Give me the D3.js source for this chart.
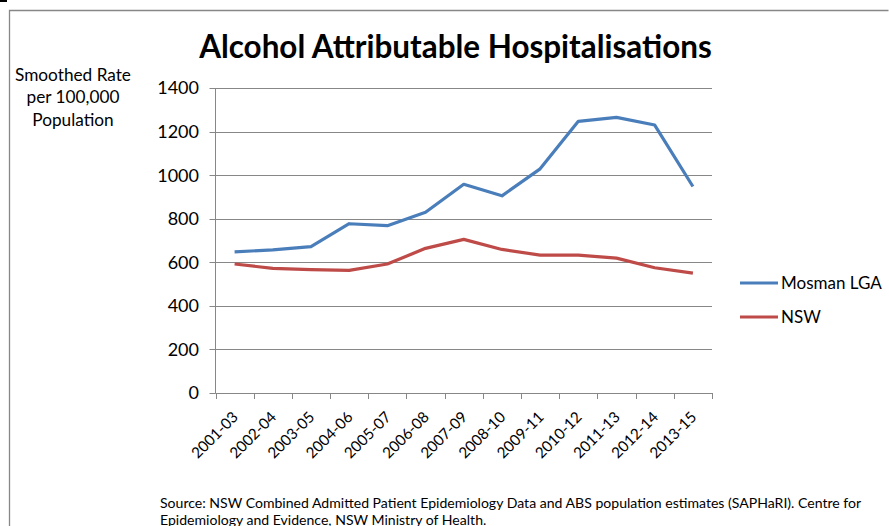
<!DOCTYPE html>
<html><head><meta charset="utf-8">
<script src="https://cdn.jsdelivr.net/npm/d3@7"></script>
<style>
html,body{margin:0;padding:0;background:#fff;}
svg{display:block;}
text{font-family:Lato,"Open Sans",sans-serif;}
</style></head>
<body>
<svg id="chart" width="889" height="526"></svg>
<script>
const categories = ["2001-03","2002-04","2003-05","2004-06","2005-07","2006-08","2007-09","2008-10","2009-11","2010-12","2011-13","2012-14","2013-15"];
const mosmanValues = [648,657,672,777,768,830,958,905,1029,1247,1265,1230,948];
const nswValues = [592,572,566,563,592,664,705,659,633,633,619,575,550];
const seriesNames = ["Mosman LGA","NSW"];
const yTicks = [0,200,400,600,800,1000,1200,1400];
const titleText = "Alcohol Attributable Hospitalisations";
const yTitleLines = ["Smoothed Rate","per 100,000","Population"];
const sourceLines = ["Source: NSW Combined Admitted Patient Epidemiology Data and ABS population estimates (SAPHaRI). Centre for","Epidemiology and Evidence, NSW Ministry of Health."];

(function(){
const colors = ["#4A7EBB","#BE4B48"];
const svg = d3.select("#chart");

function fit(sel, w){
  const cur = parseFloat(sel.attr("font-size"));
  const len = sel.node().getComputedTextLength();
  sel.attr("font-size", cur * w / len);
}

// chart border
svg.append("rect").attr("x",0).attr("y",0).attr("width",7).attr("height",2).attr("fill","#000");
svg.append("path").attr("d","M9.5,540 V10.5 H888.5").attr("fill","none").attr("stroke","#878787").attr("stroke-width",1.3);

const pl = 215.5, pr = 712, pt = 88, pb = 393;
const x = d3.scaleBand().domain(categories).range([pl,pr]);
const y = d3.scaleLinear().domain([0,1400]).range([pb,pt]);
const cx = d => x(d) + x.bandwidth()/2;

// gridlines
svg.append("g").selectAll("line").data(yTicks.filter(t=>t>0)).join("line")
  .attr("x1",pl).attr("x2",pr).attr("y1",d=>Math.round(y(d))+0.5).attr("y2",d=>Math.round(y(d))+0.5)
  .attr("stroke","#878787").attr("stroke-width",1);
// y ticks
svg.append("g").selectAll("line").data(yTicks).join("line")
  .attr("x1",pl-6).attr("x2",pl).attr("y1",d=>Math.round(y(d))+0.5).attr("y2",d=>Math.round(y(d))+0.5)
  .attr("stroke","#878787");
// y axis
svg.append("line").attr("x1",pl).attr("x2",pl).attr("y1",pt).attr("y2",pb+0.5).attr("stroke","#878787");
// x axis
svg.append("line").attr("x1",pl).attr("x2",pr).attr("y1",pb+0.5).attr("y2",pb+0.5).attr("stroke","#878787");
const bounds = categories.map(c=>x(c)).concat([pr]);
svg.append("g").selectAll("line").data(bounds).join("line")
  .attr("x1",d=>Math.round(d)+0.5).attr("x2",d=>Math.round(d)+0.5).attr("y1",pb).attr("y2",pb+6)
  .attr("stroke","#878787");

// y labels
svg.append("g").selectAll("text").data(yTicks).join("text")
  .attr("x",199).attr("y",d=>y(d)).attr("dy","0.36em").attr("text-anchor","end")
  .attr("font-size",18).attr("fill","#000").text(d=>d);

// x labels
svg.append("g").selectAll("text").data(categories).join("text")
  .attr("text-anchor","end").attr("font-size",15.2).attr("fill","#000")
  .attr("transform",d=>`translate(${cx(d)+4.5},${pb+25}) rotate(-45)`).text(d=>d);

// lines
const line = d3.line().x((d,i)=>cx(categories[i])).y(d=>y(d));
[mosmanValues,nswValues].forEach((vals,i)=>{
  svg.append("path").datum(vals).attr("d",line).attr("fill","none")
    .attr("stroke",colors[i]).attr("stroke-width",3.2).attr("stroke-linejoin","round").attr("stroke-linecap","butt");
});

// title
const t = svg.append("text").attr("x",455.5).attr("y",58).attr("text-anchor","middle")
  .attr("font-weight","bold").attr("font-size",28).attr("fill","#000").text(titleText);
fit(t,513);

// y title
const yt = svg.append("g");
yTitleLines.forEach((s,i)=>{
  const tt = yt.append("text").attr("x",73).attr("y",80.5+i*22.5).attr("text-anchor","middle")
    .attr("font-size",17).attr("fill","#000").text(s);
  if(i===0) fit(tt,116);
});
const fs0 = yt.select("text").attr("font-size");
yt.selectAll("text").attr("font-size",fs0);

// legend
const legY = [283,317];
seriesNames.forEach((n,i)=>{
  svg.append("line").attr("x1",740).attr("x2",778).attr("y1",legY[i]).attr("y2",legY[i])
    .attr("stroke",colors[i]).attr("stroke-width",3.2);
  const lt = svg.append("text").attr("x",781).attr("y",legY[i]).attr("dy","0.36em")
    .attr("font-size",17).attr("fill","#000").text(n);
  if(i===0) fit(lt,101);
});
const lts = svg.selectAll("text").filter(function(){return seriesNames.includes(this.textContent);});
const lfs = lts.filter(function(){return this.textContent===seriesNames[0];}).attr("font-size");
lts.attr("font-size",lfs);

// source
let sfs = null;
sourceLines.forEach((s,i)=>{
  const st = svg.append("text").attr("x",160).attr("y",508+i*16.5)
    .attr("font-size",13).attr("fill","#000").text(s);
  if(i===0){ fit(st,702); sfs = st.attr("font-size"); }
  else st.attr("font-size",sfs);
});
})();
</script>
</body></html>
